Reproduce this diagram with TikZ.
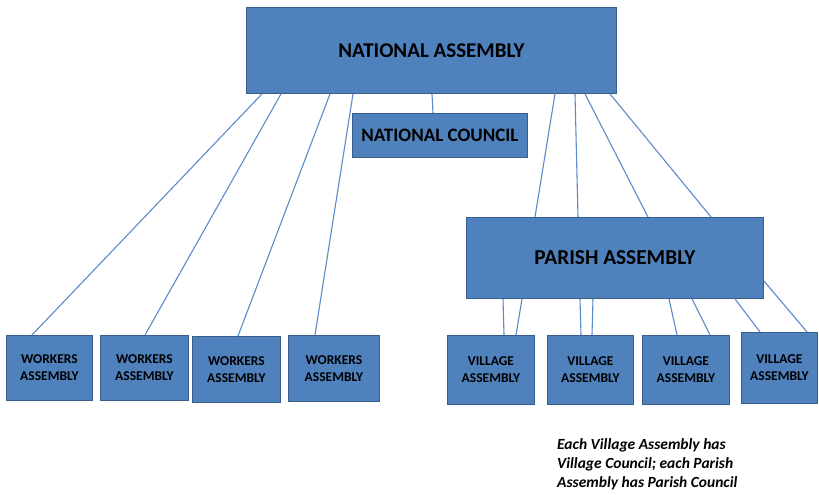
\documentclass[tikz,border=0pt]{standalone}
\usepackage{fontspec}
\setmainfont{Carlito}
\definecolor{boxfill}{HTML}{4F81BD}
\definecolor{boxline}{HTML}{385D8A}
\definecolor{linkline}{HTML}{5B8BC9}
\begin{document}
\begin{tikzpicture}[x=1pt,y=-1pt,
  box/.style={draw=boxline, line width=0.9pt, fill=boxfill, inner sep=0pt,
    anchor=north west, align=center, text=black, font=\bfseries},
  small/.style={box, font=\bfseries\fontsize{13.5}{17}\selectfont},
  link/.style={draw=linkline, line width=1.1pt}]
\useasboundingbox (0,0) rectangle (819,495);

% top level
\node[box, minimum width=370pt, minimum height=86pt, font=\bfseries\fontsize{21}{24}\selectfont] (NA) at (246,7) {NATIONAL ASSEMBLY};
\node[box, minimum width=175pt, minimum height=44pt, font=\bfseries\fontsize{19}{22}\selectfont] (NC) at (352,113) {NATIONAL COUNCIL};
\node[box, minimum width=297pt, minimum height=81pt, font=\bfseries\fontsize{21.3}{24}\selectfont] (PA) at (466,217) {PARISH ASSEMBLY};

% workers assemblies
\node[small, minimum width=86pt, minimum height=65pt] (W1) at (6,335) {WORKERS\\ASSEMBLY};
\node[small, minimum width=88pt, minimum height=65pt] (W2) at (100,335) {WORKERS\\ASSEMBLY};
\node[small, minimum width=88pt, minimum height=66pt] (W3) at (192,336) {WORKERS\\ASSEMBLY};
\node[small, minimum width=91pt, minimum height=66pt] (W4) at (288,335) {WORKERS\\ASSEMBLY};

% village assemblies
\node[small, minimum width=87pt, minimum height=69pt] (V1) at (447,335) {VILLAGE\\ASSEMBLY};
\node[small, minimum width=86pt, minimum height=69pt] (V2) at (547,335) {VILLAGE\\ASSEMBLY};
\node[small, minimum width=87pt, minimum height=69pt] (V3) at (642,335) {VILLAGE\\ASSEMBLY};
\node[small, minimum width=76pt, minimum height=71pt] (V4) at (741,332) {VILLAGE\\ASSEMBLY};

% national assembly to national council
\draw[link] ([xshift=186pt]NA.south west) -- ([xshift=81pt]NC.north west);

% national assembly to workers assemblies
\draw[link] ([xshift=16pt]NA.south west) -- ([xshift=26pt]W1.north west);
\draw[link] ([xshift=35pt]NA.south west) -- ([xshift=45pt]W2.north west);
\draw[link] ([xshift=84pt]NA.south west) -- ([xshift=46pt]W3.north west);
\draw[link] ([xshift=107pt]NA.south west) -- ([xshift=27pt]W4.north west);

% national assembly to parish assembly
\draw[link] ([xshift=309pt]NA.south west) -- ([xshift=69pt]PA.north west);
\draw[link] ([xshift=329pt]NA.south west) -- ([xshift=112pt]PA.north west);
\draw[link] ([xshift=339pt]NA.south west) -- ([xshift=182pt]PA.north west);
\draw[link] ([xshift=364pt]NA.south west) -- ([xshift=245pt]PA.north west);

% parish assembly to village assemblies
\draw[link] ([xshift=37pt]PA.south west) -- ([xshift=57pt]V1.north west);
\draw[link] ([xshift=56pt]PA.south west) -- ([xshift=69pt]V1.north west);
\draw[link] ([xshift=114pt]PA.south west) -- ([xshift=34pt]V2.north west);
\draw[link] ([xshift=127pt]PA.south west) -- ([xshift=45pt]V2.north west);
\draw[link] ([xshift=203pt]PA.south west) -- ([xshift=35pt]V3.north west);
\draw[link] ([xshift=226pt]PA.south west) -- ([xshift=68pt]V3.north west);
\draw[link] ([xshift=269pt]PA.south west) -- ([xshift=19pt]V4.north west);
\draw[link] ([yshift=18pt]PA.south east) -- ([xshift=66pt]V4.north west);

% note
\node[anchor=north west, align=left, inner sep=0pt, font=\bfseries\itshape\fontsize{15.5}{19}\selectfont] (note) at (557,438)
  {Each Village Assembly has\\Village Council; each Parish\\Assembly has Parish Council};
\end{tikzpicture}
\end{document}
